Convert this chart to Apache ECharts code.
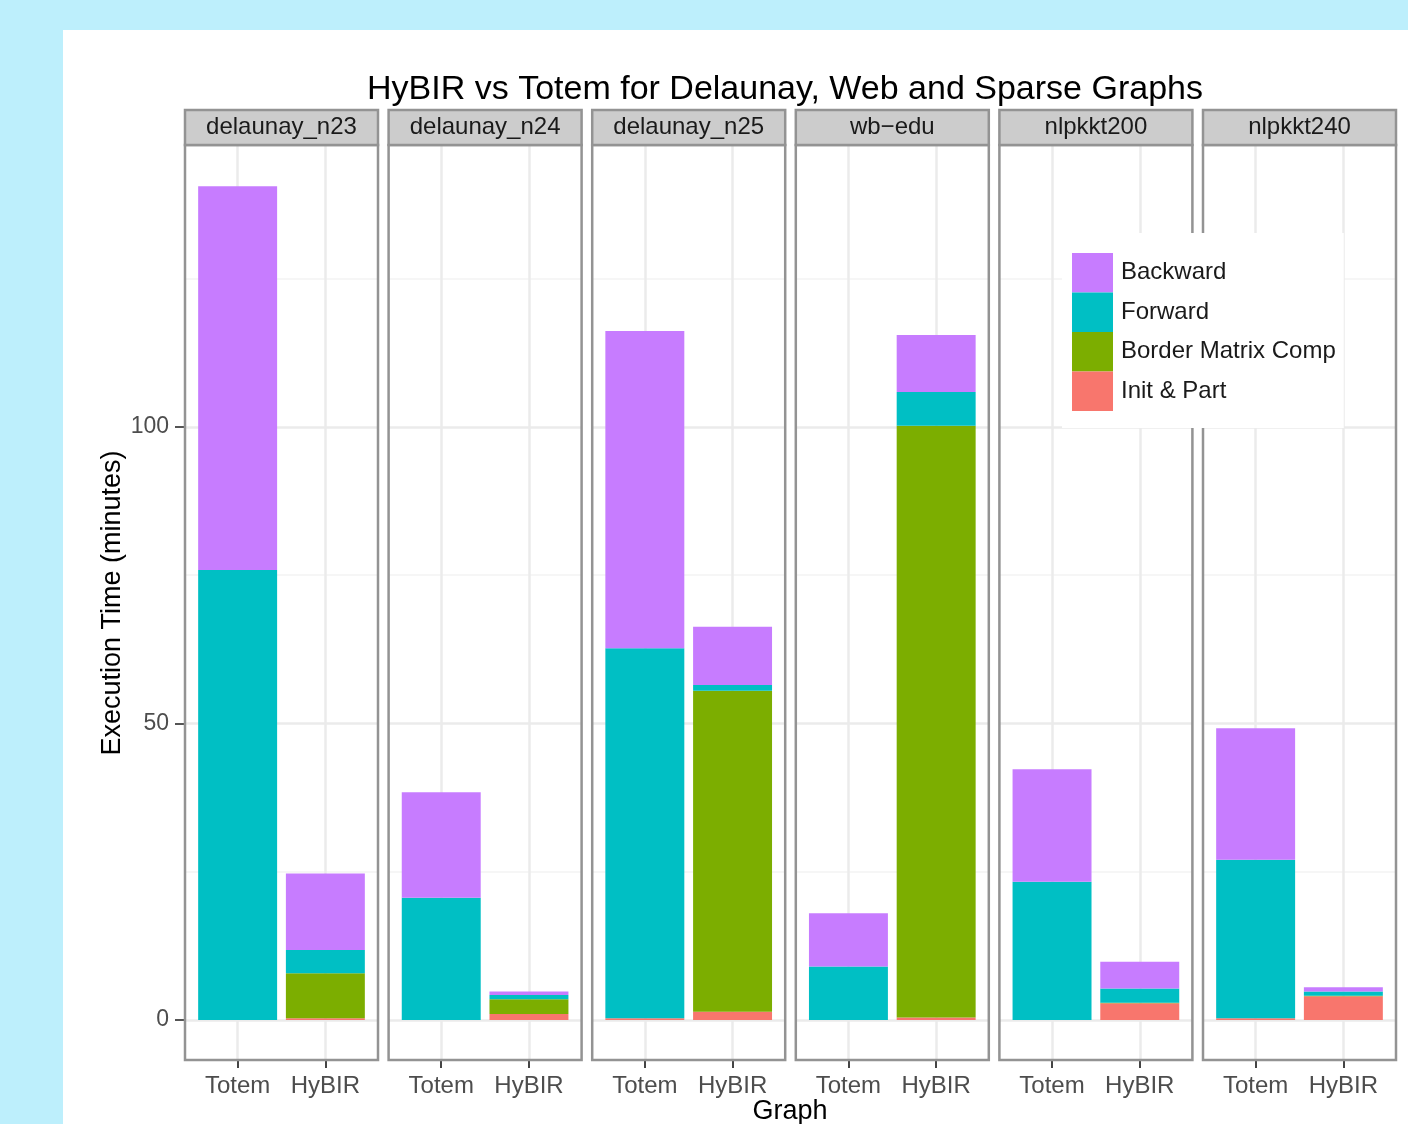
<!DOCTYPE html>
<html>
<head>
<meta charset="utf-8">
<script src="https://cdn.jsdelivr.net/npm/echarts@6/dist/echarts.min.js"></script>
<style>
  html, body { margin: 0; padding: 0; width: 1408px; height: 1124px; overflow: hidden; background: #bdeffc; }
  #sheet { position: absolute; left: 63px; top: 30px; right: 0; bottom: 0; background: #ffffff; }
  #chart { position: absolute; left: 0; top: 0; width: 1408px; height: 1124px; }
</style>
</head>
<body>
<div id="sheet"></div>
<div id="chart"></div>
<script>
// Graphs (one facet each) and the two methods compared inside every facet
const graphs = ['delaunay_n23', 'delaunay_n24', 'delaunay_n25', 'wb\u2212edu', 'nlpkkt200', 'nlpkkt240'];
const methods = ['Totem', 'HyBIR'];

// Execution time per phase, in minutes, one entry per graph
const initTotem     = [0, 0, 0.3, 0, 0, 0.3];
const initHybir     = [0.3, 1.0, 1.4, 0.4, 2.8, 4.0];
const borderTotem   = [0, 0, 0, 0, 0, 0];
const borderHybir   = [7.6, 2.5, 54.1, 99.8, 0.1, 0.1];
const forwardTotem  = [75.9, 20.6, 62.4, 9.0, 23.3, 26.7];
const forwardHybir  = [3.9, 0.7, 1.0, 5.7, 2.4, 0.7];
const backwardTotem = [64.7, 17.8, 53.5, 9.0, 19.0, 22.2];
const backwardHybir = [12.9, 0.6, 9.8, 9.6, 4.5, 0.7];

const yTicks = [0, 50, 100];
const yMinorGrid = [25, 75, 125];

// Phases in stacking order (bottom to top)
const phases = [
  { name: 'Init & Part',        color: '#F8766D', totem: initTotem,     hybir: initHybir },
  { name: 'Border Matrix Comp', color: '#7CAE00', totem: borderTotem,   hybir: borderHybir },
  { name: 'Forward',            color: '#00BFC4', totem: forwardTotem,  hybir: forwardHybir },
  { name: 'Backward',           color: '#C77CFF', totem: backwardTotem, hybir: backwardHybir }
];
const legendOrder = ['Backward', 'Forward', 'Border Matrix Comp', 'Init & Part'];

const FONT = '"Liberation Sans", Arial, Helvetica, sans-serif';
const panelLeft0 = 185, panelStep = 203.6, panelW = 193;
const panelTop = 145, panelH = 915, stripTop = 110, stripH = 35;
const yMin = -6.75, yMax = 147.55;
const barHalf = 0.45;           // bar width 0.9 of a category step
const borderColor = '#939393';

const grids = [], xAxes = [], yAxes = [], series = [], graphics = [];

// one stacked segment per data item: [position, lower, upper]
function renderSegment(params, api) {
  const x = api.value(0), lo = api.value(1), hi = api.value(2);
  if (hi <= lo) return null;
  const p0 = api.coord([x - barHalf, hi]);
  const p1 = api.coord([x + barHalf, lo]);
  return {
    type: 'rect',
    shape: { x: p0[0], y: p0[1], width: p1[0] - p0[0], height: p1[1] - p0[1] },
    style: { fill: api.visual('color') }
  };
}

graphs.forEach((g, i) => {
  const left = panelLeft0 + i * panelStep;
  grids.push({ left: left, top: panelTop, width: panelW, height: panelH, show: false });

  xAxes.push({
    gridIndex: i, type: 'value', min: 0.4, max: 2.6, position: 'bottom',
    axisLine: { show: false, onZero: false }, splitLine: { show: false },
    axisTick: { show: true, inside: false, customValues: [1, 2], length: 8, lineStyle: { color: '#444', width: 2 } },
    axisLabel: {
      customValues: [1, 2], margin: 14, fontSize: 24, color: '#4d4d4d', fontFamily: FONT,
      formatter: v => methods[Math.round(v) - 1]
    }
  });

  yAxes.push(i === 0 ? {
    gridIndex: i, type: 'value', min: yMin, max: yMax, position: 'left',
    axisLine: { show: false, onZero: false }, splitLine: { show: false },
    axisTick: { show: true, customValues: yTicks, length: 10, lineStyle: { color: '#555', width: 2 } },
    axisLabel: { customValues: yTicks, margin: 16, fontSize: 23, color: '#4d4d4d', fontFamily: FONT }
  } : {
    gridIndex: i, type: 'value', min: yMin, max: yMax, show: false,
    axisLine: { show: false, onZero: false }, splitLine: { show: false }, axisTick: { show: false }, axisLabel: { show: false }
  });

  // panel grid lines, kept underneath the bars
  const lines = [];
  yTicks.forEach(v => lines.push({ yAxis: v, lineStyle: { color: '#ebebeb', width: 2.5, type: 'solid' } }));
  yMinorGrid.forEach(v => lines.push({ yAxis: v, lineStyle: { color: '#f6f6f6', width: 2, type: 'solid' } }));
  [1, 2].forEach(v => lines.push({ xAxis: v, lineStyle: { color: '#ebebeb', width: 2.5, type: 'solid' } }));
  series.push({
    type: 'line', xAxisIndex: i, yAxisIndex: i, data: [], silent: true, z: 1,
    markLine: { z: 1, silent: true, symbol: ['none', 'none'], label: { show: false }, animation: false, data: lines }
  });

  // stacked phase segments
  const base = [0, 0];
  phases.forEach(p => {
    const vals = [p.totem[i], p.hybir[i]];
    const items = vals.map((v, k) => {
      const item = [k + 1, base[k], base[k] + v];
      base[k] += v;
      return item;
    });
    series.push({
      type: 'custom', name: p.name, xAxisIndex: i, yAxisIndex: i, z: 3,
      renderItem: renderSegment,
      itemStyle: { color: p.color },
      encode: { x: 0, y: [1, 2] },
      silent: true,
      data: items
    });
  });

  // panel border
  graphics.push({
    type: 'rect', z: 5, silent: true,
    shape: { x: left, y: panelTop, width: panelW, height: panelH },
    style: { fill: null, stroke: borderColor, lineWidth: 2.5 }
  });
  // strip
  graphics.push({
    type: 'rect', z: 5, silent: true,
    shape: { x: left, y: stripTop, width: panelW, height: stripH },
    style: { fill: '#cccccc', stroke: borderColor, lineWidth: 2.5 }
  });
  graphics.push({
    type: 'text', z: 6, silent: true, x: left + panelW / 2, y: stripTop + stripH / 2,
    style: { text: g, fill: '#1a1a1a', font: '24px ' + FONT, textAlign: 'center', textVerticalAlign: 'middle' }
  });
});

// chart title and axis titles
graphics.push({
  type: 'text', z: 6, silent: true, x: 785, y: 90,
  style: { text: 'HyBIR vs Totem for Delaunay, Web and Sparse Graphs', fill: '#000', font: '34px ' + FONT, textAlign: 'center', textVerticalAlign: 'middle' }
});
graphics.push({
  type: 'text', z: 6, silent: true, x: 790, y: 1112,
  style: { text: 'Graph', fill: '#000', font: '27px ' + FONT, textAlign: 'center', textVerticalAlign: 'middle' }
});
graphics.push({
  type: 'text', z: 6, silent: true, x: 113, y: 603, rotation: Math.PI / 2,
  style: { text: 'Execution Time (minutes)', fill: '#000', font: '27px ' + FONT, textAlign: 'center', textVerticalAlign: 'middle' }
});

const chart = echarts.init(document.getElementById('chart'), null, { renderer: 'canvas' });
chart.setOption({
  animation: false,
  backgroundColor: 'transparent',
  grid: grids,
  xAxis: xAxes,
  yAxis: yAxes,
  legend: {
    orient: 'vertical', left: 1062, top: 233, z: 10,
    itemWidth: 41, itemHeight: 39.5, itemGap: 0,
    padding: [20, 8, 17, 10],
    backgroundColor: '#ffffff',
    icon: 'rect', selectedMode: false,
    textStyle: { fontSize: 24, color: '#1a1a1a', fontFamily: FONT, padding: [0, 0, 0, 3] },
    data: legendOrder
  },
  graphic: { elements: graphics },
  series: series
});
</script>
</body>
</html>
